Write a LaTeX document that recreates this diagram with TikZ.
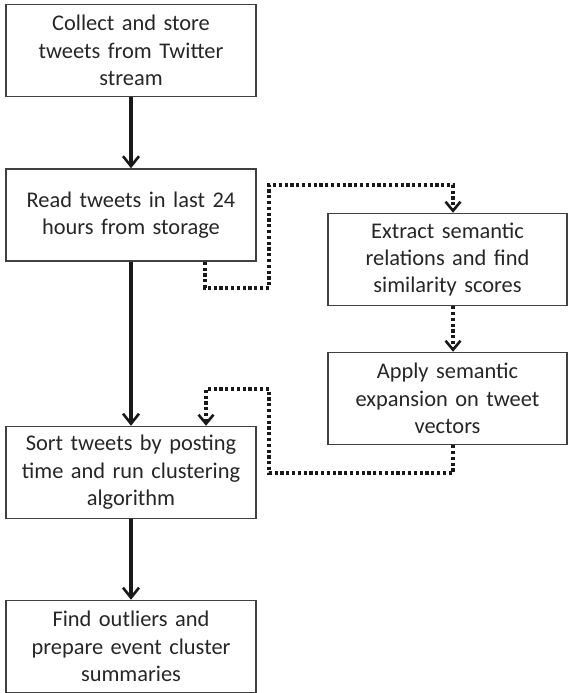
\documentclass[tikz,border=0pt]{standalone}
\usepackage{fontspec}
\setmainfont{Carlito}[WordSpace=0.75]
\usetikzlibrary{arrows.meta,calc}

\begin{document}
\begin{tikzpicture}[x=1bp,y=-1bp,
  stepbox/.style={draw=black!75, line width=1.5bp, rectangle, align=center,
    minimum height=92bp, inner sep=2bp, text=black!85,
    font=\fontsize{22.5}{27.5}\selectfont},
  leftbox/.style={stepbox, minimum width=250bp, text width=244bp},
  rightbox/.style={stepbox, minimum width=239bp, text width=233bp},
  mainflow/.style={line width=3.2bp, draw=black!90,
    -{Straight Barb[length=10bp,width=16bp,line width=2.6bp]}},
  sideflow/.style={line width=3.4bp, draw=black!90, dash pattern=on 3.2bp off 2.6bp,
    -{Straight Barb[length=9bp,width=15bp,line width=2.6bp]}}]
  \useasboundingbox (0,0) rectangle (569,693);

  % main column
  \node[leftbox] (collect) at (131,50.5) {Collect and store\\tweets from Twitter\\stream};
  \node[leftbox] (read) at (131,215) {Read tweets in last 24\\hours from storage};
  \node[leftbox] (sort) at (131,472.5) {Sort tweets by posting\\time and run clustering\\algorithm};
  \node[leftbox] (outliers) at (131,646.5) {Find outliers and\\prepare event cluster\\summaries};

  % semantic branch
  \node[rightbox] (extract) at (447.5,259.5) {Extract semantic\\relations and find\\similarity scores};
  \node[rightbox] (expand) at (447.5,398.5) {Apply semantic\\expansion on tweet\\vectors};

  % solid pipeline arrows
  \draw[mainflow] (collect) -- (read);
  \draw[mainflow] (read) -- (sort);
  \draw[mainflow] (sort) -- (outliers);

  % dotted detour through the semantic steps
  \coordinate (r1) at ([xshift=74bp]read.south);
  \coordinate (e1) at ([xshift=5.5bp]extract.north);
  \coordinate (e2) at ([xshift=5.5bp]extract.south);
  \coordinate (x1) at ([xshift=5.5bp]expand.north);
  \coordinate (x2) at ([xshift=5.5bp]expand.south);
  \coordinate (s1) at ([xshift=75bp]sort.north);

  \draw[sideflow] (r1) -- (r1 |- 0,288) -- (269,288) -- (269,185) -- (e1 |- 0,185) -- (e1);
  \draw[sideflow] (e2) -- (x1);
  \draw[sideflow] (x2) -- (x2 |- 0,473) -- (269,473) -- (269,389) -- (s1 |- 0,389) -- (s1);
\end{tikzpicture}
\end{document}
